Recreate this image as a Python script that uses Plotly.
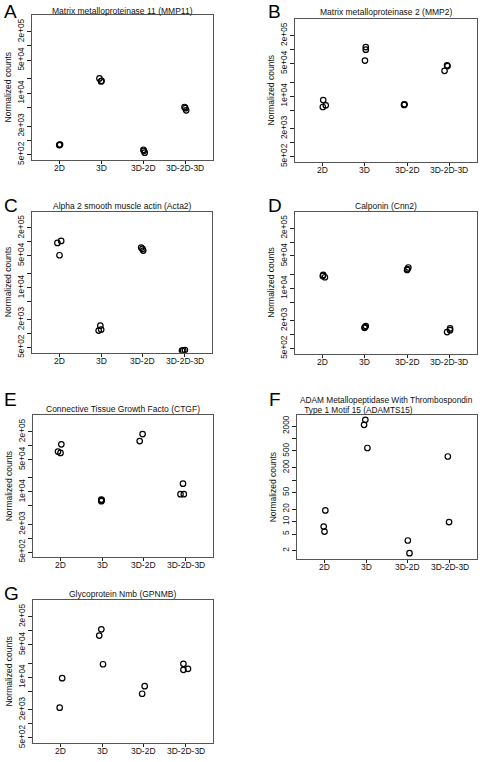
import plotly.graph_objects as go

# ---------------- data ----------------
groups = ["2D", "3D", "3D-2D", "3D-2D-3D"]
titles = [
    "Matrix metalloproteinase 11 (MMP11)",
    "Matrix metalloproteinase 2 (MMP2)",
    "Alpha 2 smooth muscle actin (Acta2)",
    "Calponin (Cnn2)",
    "Connective Tissue Growth Facto (CTGF)",
    "ADAM Metallopeptidase With Thrombospondin",
    "Glycoprotein Nmb (GPNMB)",
]
title_F_line2 = " Type 1 Motif 15 (ADAMTS15)"
letters = ["A", "B", "C", "D", "E", "F", "G"]

# group index (1..4), horizontal jitter, normalized counts
A_group = [1, 1, 1, 2, 2, 2, 3, 3, 3, 4, 4, 4]
A_jitter = [0.0, 0.01, -0.01, -0.05, -0.01, 0.0, 0.0, 0.03, 0.01, -0.02, 0.02, 0.0]
A_values = [806, 815, 795, 20500, 17700, 18300, 632, 547, 600, 5085, 4335, 4800]

B_group = [1, 1, 1, 2, 2, 2, 3, 3, 3, 4, 4, 4]
B_jitter = [0.01, 0.0, 0.07, 0.02, 0.02, 0.0, -0.07, -0.06, -0.07, -0.11, -0.05, -0.04]
B_values = [8220, 5820, 6330, 113000, 99100, 57800, 6550, 6650, 6450, 34800, 45800, 44000]

C_group = [1, 1, 1, 2, 2, 2, 3, 3, 3, 4, 4, 4]
C_jitter = [-0.05, 0.04, 0.0, -0.06, 0.0, -0.02, -0.04, 0.01, -0.01, -0.06, 0.01, -0.03]
C_values = [94400, 104400, 51000, 1165, 1225, 1493, 74800, 64400, 70000, 425, 440, 430]

D_group = [1, 1, 1, 2, 2, 2, 3, 3, 3, 4, 4, 4]
D_jitter = [0.0, 0.05, 0.01, -0.01, 0.02, 0.0, 0.0, 0.03, 0.01, -0.05, 0.02, 0.02]
D_values = [18500, 17300, 19450, 1393, 1517, 1443, 24950, 28100, 26000, 1125, 1242, 1352]

E_group = [1, 1, 1, 2, 2, 2, 3, 3, 4, 4, 4]
E_jitter = [-0.06, 0.0, 0.02, -0.02, -0.02, -0.01, -0.1, -0.03, -0.12, -0.04, -0.06]
E_values = [74600, 69600, 106900, 6820, 6310, 6620, 125900, 177800, 8910, 8910, 15040]

F_group = [1, 1, 1, 2, 2, 2, 3, 3, 4, 4]
F_jitter = [0.02, -0.02, 0.0, -0.02, -0.05, 0.03, 0.0, 0.04, -0.04, -0.01]
F_values = [18.5, 7.55, 5.73, 2820, 2140, 590, 3.49, 1.73, 369, 9.7]

G_group = [1, 1, 2, 2, 2, 3, 3, 4, 4, 4]
G_jitter = [0.04, -0.02, -0.07, -0.02, 0.02, -0.04, 0.02, -0.05, -0.05, 0.06]
G_values = [9530, 2215, 78300, 106700, 19000, 4420, 6430, 19400, 14430, 15140]

std_tickvals = [500, 1000, 2000, 5000, 1e4, 2e4, 5e4, 1e5, 2e5]
std_ticktext = ["5e+02", "", "2e+03", "", "1e+04", "", "5e+04", "", "2e+05"]
F_tickvals = [2, 5, 10, 20, 50, 100, 200, 500, 1000, 2000]
F_ticktext = ["2", "5", "10", "20", "50", "", "200", "500", "", "2000"]

panels = [
    (A_group, A_jitter, A_values),
    (B_group, B_jitter, B_values),
    (C_group, C_jitter, C_values),
    (D_group, D_jitter, D_values),
    (E_group, E_jitter, E_values),
    (F_group, F_jitter, F_values),
    (G_group, G_jitter, G_values),
]

# ---------------- layout geometry (pixels) ----------------
W, H = 480, 762
boxes = [  # left, right, top, bottom
    (32, 213, 15, 161),
    (295, 477, 19, 163),
    (32, 212, 213, 355),
    (295, 477, 213, 356),
    (33, 213, 418, 561),
    (297, 477, 418, 563),
    (33, 213, 604, 748),
]
title_y = [11, 12, 207, 207, 412, None, 598]        # centre of title text
letter_pos = [(2, 12), (266, 12), (2, 207), (266, 207), (2, 402), (267, 402), (2, 597)]
std_range = [2.585, 5.658]
F_range = [0.09, 3.56]

FONT = "Liberation Sans, Arial, Helvetica, sans-serif"
TXT = "#111"
fig = go.Figure()
annotations = []


def pa(text, x, y, size=8.5, xanchor="center", yanchor="middle", angle=0, color=TXT):
    annotations.append(dict(text=text, x=x / W, y=1 - y / H, xref="paper", yref="paper",
                            xanchor=xanchor, yanchor=yanchor, textangle=angle,
                            showarrow=False,
                            font=dict(size=size, color=color, family=FONT)))


for i, ((grp, jit, vals), (l, r, t, b)) in enumerate(zip(panels, boxes)):
    n = i + 1
    xa = "x" if n == 1 else f"x{n}"
    ya = "y" if n == 1 else f"y{n}"
    xs = [g + j for g, j in zip(grp, jit)]
    fig.add_trace(go.Scatter(
        x=xs, y=vals, mode="markers", xaxis=xa, yaxis=ya, showlegend=False,
        marker=dict(symbol="circle-open", size=5.5, color="black",
                    line=dict(width=1.2, color="black")),
    ))
    isF = letters[i] == "F"
    xkey = "xaxis" if n == 1 else f"xaxis{n}"
    ykey = "yaxis" if n == 1 else f"yaxis{n}"
    fig.layout[xkey] = dict(
        domain=[l / W, r / W], anchor=ya, range=[0.34, 4.66],
        tickmode="array", tickvals=[1, 2, 3, 4], showticklabels=False,
        ticks="outside", ticklen=3, tickcolor="#222", showgrid=False,
        zeroline=False, showline=True, linecolor="#555", linewidth=1,
        mirror=True,
    )
    fig.layout[ykey] = dict(
        domain=[1 - b / H, 1 - t / H], anchor=xa, type="log",
        range=F_range if isF else std_range,
        tickmode="array",
        tickvals=F_tickvals if isF else std_tickvals,
        ticktext=F_ticktext if isF else std_ticktext,
        tickangle=-90, ticks="outside", ticklen=4, tickcolor="#222",
        showgrid=False, zeroline=False, showline=True, linecolor="#555",
        linewidth=1, mirror=True,
        tickfont=dict(size=8.3, color=TXT, family=FONT),
    )
    # x tick labels as annotations placed under each tick
    for k, g in enumerate(groups):
        annotations.append(dict(text=g, x=k + 1, xref=xa, y=1 - (b + 8) / H,
                                yref="paper", xanchor="center", yanchor="middle",
                                showarrow=False,
                                font=dict(size=8.5, color=TXT, family=FONT)))
    cx = (l + r) / 2
    if isF:
        pa(titles[i], 298, 403, size=8.3, xanchor="left")
        pa(title_F_line2, 300, 412.5, size=8.3, xanchor="left")
    else:
        pa(titles[i], cx, title_y[i])
    pa("Normalized counts", l - 24, (t + b) / 2, angle=-90)
    lx, ly = letter_pos[i]
    pa(letters[i], lx, ly, size=19, xanchor="left", color="black")

fig.update_layout(
    width=W, height=H, margin=dict(l=0, r=0, t=0, b=0),
    paper_bgcolor="white", plot_bgcolor="white",
    annotations=annotations, font=dict(family=FONT),
)
fig.write_html(
    "out.html",
    config={"displayModeBar": False, "staticPlot": True},
    post_script="document.body.style.margin='0';document.body.style.padding='0';"
                "document.body.style.overflow='hidden';",
)
